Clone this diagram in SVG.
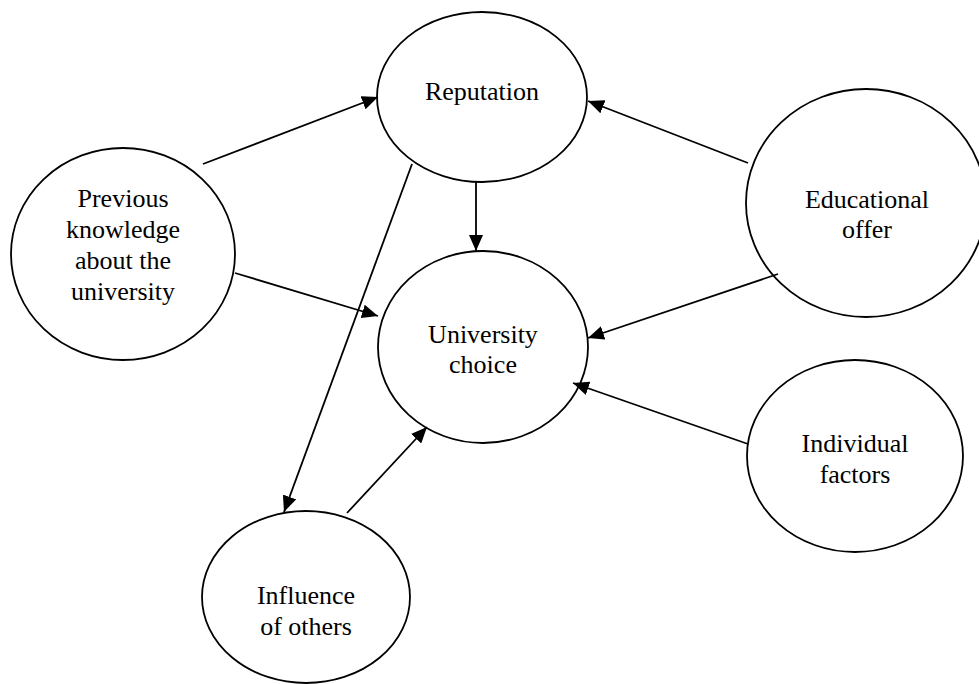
<svg xmlns="http://www.w3.org/2000/svg" width="979" height="684" viewBox="0 0 979 684">
<defs>
<style>
.node ellipse{fill:#fff;stroke:#000;stroke-width:1.8}
.node text{font-family:"Liberation Serif","Times New Roman",serif;font-size:26px;fill:#000;text-anchor:middle}
.edges line{stroke:#000;stroke-width:1.8;marker-end:url(#arr)}
</style>
<marker id="arr" markerUnits="userSpaceOnUse" markerWidth="16" markerHeight="14" refX="16" refY="7" orient="auto">
<path d="M0,0 L16,7 L0,14 z" fill="#000"/>
</marker>
</defs>
<rect width="979" height="684" fill="#fff"/>
<g id="reputation" class="node">
<ellipse cx="482" cy="97" rx="105" ry="85"/>
<text x="482" y="100">Reputation</text>
</g>
<g id="previous" class="node">
<ellipse cx="123" cy="254" rx="112" ry="106"/>
<text x="123" y="207">Previous</text>
<text x="123" y="238">knowledge</text>
<text x="123" y="269">about the</text>
<text x="123" y="300">university</text>
</g>
<g id="educational" class="node">
<ellipse cx="866" cy="203" rx="120" ry="114"/>
<text x="867" y="208">Educational</text>
<text x="867" y="238">offer</text>
</g>
<g id="university" class="node">
<ellipse cx="483" cy="347" rx="105" ry="96"/>
<text x="483" y="343">University</text>
<text x="483" y="373">choice</text>
</g>
<g id="individual" class="node">
<ellipse cx="855" cy="456" rx="108" ry="96"/>
<text x="855" y="452">Individual</text>
<text x="855" y="483">factors</text>
</g>
<g id="influence" class="node">
<ellipse cx="306" cy="597" rx="104" ry="86"/>
<text x="306" y="604">Influence</text>
<text x="306" y="635">of others</text>
</g>
<g id="connectors" class="edges">
<line x1="203" y1="164" x2="378" y2="97"/>
<line x1="235" y1="273" x2="378" y2="316"/>
<line x1="476" y1="182" x2="476" y2="251"/>
<line x1="748" y1="163" x2="588" y2="101"/>
<line x1="778" y1="274" x2="588" y2="338"/>
<line x1="748" y1="444" x2="573" y2="383"/>
<line x1="347" y1="513" x2="427" y2="427"/>
<line x1="412" y1="164" x2="284" y2="512"/>
</g>
</svg>
